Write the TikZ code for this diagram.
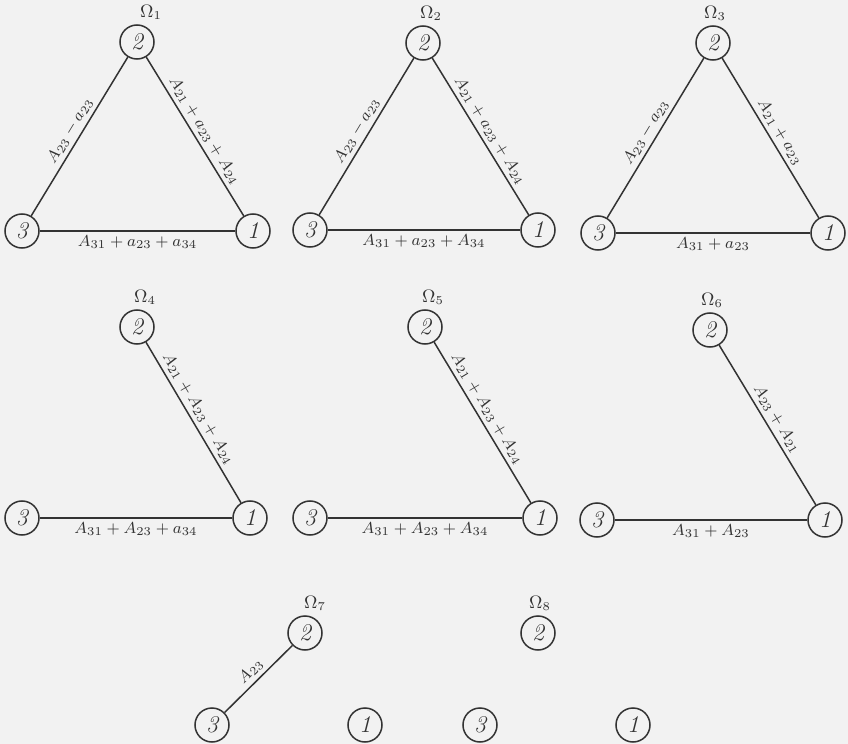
\documentclass[tikz,border=0pt]{standalone}
\usepackage{amsmath,amssymb}
\usepackage{xcolor}
\usetikzlibrary{positioning}

\definecolor{paper}{gray}{0.95}
\definecolor{ink}{gray}{0.2}

\begin{document}
\begin{tikzpicture}[
  x=0.5pt, y=-0.5pt,
  font=\footnotesize,
  vertex/.style={
    circle,
    draw=ink,
    line width=0.75pt,
    minimum size=17pt,
    inner sep=0pt,
    text=ink,
    font=\fontsize{12}{14}\selectfont\itshape
  },
  link/.style={
    draw=ink,
    line width=0.75pt
  },
  lbl/.style={
    font=\footnotesize,
    text=ink,
    inner sep=2pt
  },
  omega/.style={
    font=\small,
    text=ink,
    inner sep=1pt
  }
]

% --- Page --------------------------------------------------------------

\fill[paper] (0,0) rectangle (848,744);

% --- Omega 1 -----------------------------------------------------------

\node[vertex] (t1-2) at (137,42)  {2};
\node[vertex] (t1-3) at (22,231)  {3};
\node[vertex] (t1-1) at (253,231) {1};
\node[omega, above=1pt of t1-2, xshift=7pt] (om1) {$\Omega_1$};

\draw[link] (t1-3) -- node[lbl, above, sloped] (l1a) {$A_{23}-a_{23}$} (t1-2);
\draw[link] (t1-2) -- node[lbl, above, sloped] (l1b) {$A_{21}+a_{23}+A_{24}$} (t1-1);
\draw[link] (t1-3) -- node[lbl, below] (l1c) {$A_{31}+a_{23}+a_{34}$} (t1-1);

% --- Omega 2 -----------------------------------------------------------

\node[vertex] (t2-2) at (423,43)  {2};
\node[vertex] (t2-3) at (310,230) {3};
\node[vertex] (t2-1) at (538,230) {1};
\node[omega, above=1pt of t2-2, xshift=4pt] (om2) {$\Omega_2$};

\draw[link] (t2-3) -- node[lbl, above, sloped] (l2a) {$A_{23}-a_{23}$} (t2-2);
\draw[link] (t2-2) -- node[lbl, above, sloped] (l2b) {$A_{21}+a_{23}+A_{24}$} (t2-1);
\draw[link] (t2-3) -- node[lbl, below] (l2c) {$A_{31}+a_{23}+A_{34}$} (t2-1);

% --- Omega 3 -----------------------------------------------------------

\node[vertex] (t3-2) at (713,43)  {2};
\node[vertex] (t3-3) at (598,233) {3};
\node[vertex] (t3-1) at (828,233) {1};
\node[omega, above=1pt of t3-2, xshift=1pt] (om3) {$\Omega_3$};

\draw[link] (t3-3) -- node[lbl, above, sloped] (l3a) {$A_{23}-a_{23}$} (t3-2);
\draw[link] (t3-2) -- node[lbl, above, sloped] (l3b) {$A_{21}+a_{23}$} (t3-1);
\draw[link] (t3-3) -- node[lbl, below] (l3c) {$A_{31}+a_{23}$} (t3-1);

% --- Omega 4 -----------------------------------------------------------

\node[vertex] (t4-2) at (137,327) {2};
\node[vertex] (t4-3) at (22,518)  {3};
\node[vertex] (t4-1) at (250,518) {1};
\node[omega, above=1pt of t4-2, xshift=4pt] (om4) {$\Omega_4$};

\draw[link] (t4-2) -- node[lbl, above, sloped, pos=0.45] (l4b) {$A_{21}+A_{23}+A_{24}$} (t4-1);
\draw[link] (t4-3) -- node[lbl, below] (l4c) {$A_{31}+A_{23}+a_{34}$} (t4-1);

% --- Omega 5 -----------------------------------------------------------

\node[vertex] (t5-2) at (425,327) {2};
\node[vertex] (t5-3) at (310,518) {3};
\node[vertex] (t5-1) at (540,518) {1};
\node[omega, above=1pt of t5-2, xshift=4pt] (om5) {$\Omega_5$};

\draw[link] (t5-2) -- node[lbl, above, sloped, pos=0.45] (l5b) {$A_{21}+A_{23}+A_{24}$} (t5-1);
\draw[link] (t5-3) -- node[lbl, below] (l5c) {$A_{31}+A_{23}+A_{34}$} (t5-1);

% --- Omega 6 -----------------------------------------------------------

\node[vertex] (t6-2) at (710,330) {2};
\node[vertex] (t6-3) at (597,520) {3};
\node[vertex] (t6-1) at (825,520) {1};
\node[omega, above=1pt of t6-2, xshift=1pt] (om6) {$\Omega_6$};

\draw[link] (t6-2) -- node[lbl, above, sloped] (l6b) {$A_{23}+A_{21}$} (t6-1);
\draw[link] (t6-3) -- node[lbl, below] (l6c) {$A_{31}+A_{23}$} (t6-1);

% --- Omega 7 and Omega 8 -----------------------------------------------

\node[vertex] (t7-2) at (305,633) {2};
\node[vertex] (t7-3) at (212,725) {3};
\node[vertex] (t7-1) at (365,725) {1};
\node[omega, above=1pt of t7-2, xshift=5pt] (om7) {$\Omega_7$};

\draw[link] (t7-3) -- node[lbl, above, sloped] (l7a) {$A_{23}$} (t7-2);

\node[vertex] (t8-2) at (538,633) {2};
\node[vertex] (t8-3) at (480,725) {3};
\node[vertex] (t8-1) at (633,725) {1};
\node[omega, above=1pt of t8-2, xshift=1pt] (om8) {$\Omega_8$};

\end{tikzpicture}
\end{document}
